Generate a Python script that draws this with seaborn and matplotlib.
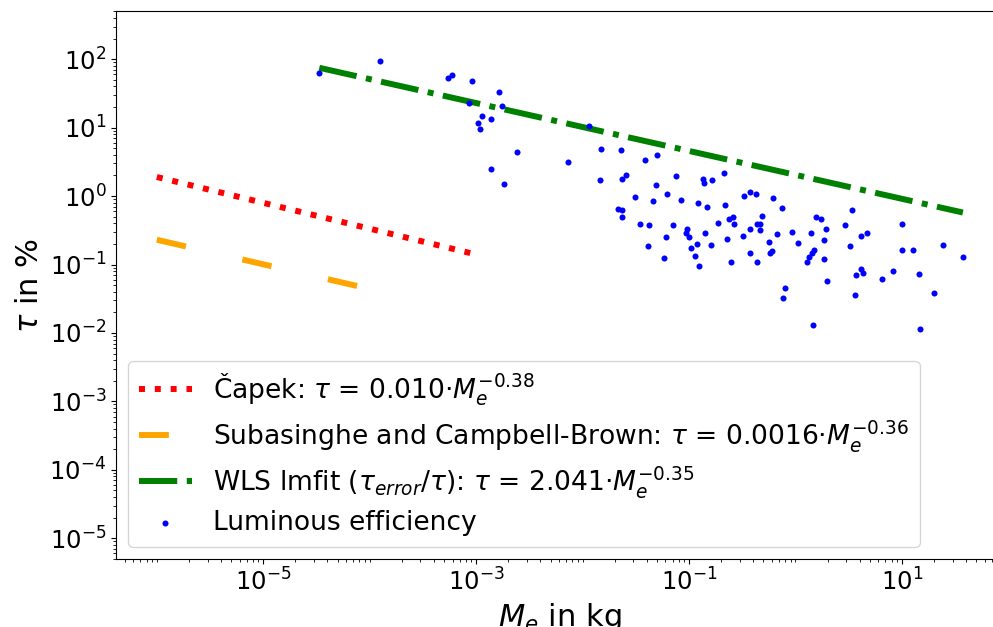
import numpy as np
import pandas as pd
import matplotlib
matplotlib.use("Agg")
import matplotlib.pyplot as plt
from matplotlib.ticker import LogLocator, NullFormatter
import seaborn as sns

# ---- data ----
capek_mass = [1e-6, 1e-3]
capek_tau = [1.9, 0.14]

suba_mass = [1e-6, 1e-4]
suba_tau = [0.23, 0.044]

wls_mass = [3.36e-5, 37.4]
wls_tau = [75.0, 0.575]

lum_mass = [
    3.36e-5, 1.25e-4, 5.40e-4, 5.93e-4, 9.07e-4, 8.61e-4, 1.65e-3, 1.75e-3,
    1.13e-3, 1.05e-3, 1.09e-3, 1.38e-3, 2.41e-3, 1.38e-3, 1.84e-3,
    1.14e-2, 7.28e-3, 1.50e-2, 2.29e-2, 3.83e-2, 5.03e-2, 1.46e-2, 2.33e-2,
    2.55e-2, 7.53e-2, 4.92e-2, 3.08e-2, 4.61e-2, 6.16e-2, 8.39e-2, 0.136,
    0.137, 0.165, 0.211, 0.121, 0.147, 0.216, 0.328, 0.376, 0.428,
    2.16e-2, 2.36e-2, 2.36e-2, 3.46e-2, 4.20e-2, 7.06e-2, 9.49e-2, 9.35e-2,
    9.91e-2, 6.07e-2, 0.140, 0.188, 0.236, 0.260, 0.262, 0.225, 0.323,
    0.376, 0.432, 0.463, 0.463, 0.481,
    4.11e-2, 0.118, 0.104, 0.160, 0.114, 0.124, 5.81e-2, 0.247, 0.376, 0.437,
    0.610, 0.746, 0.674, 0.567, 0.575, 0.601, 0.920, 1.05, 1.40, 1.57,
    1.72, 1.93, 1.86, 1.50, 1.42, 1.35, 1.28, 1.85, 1.99, 0.801, 0.762,
    1.45, 3.41, 2.91, 4.15, 4.69, 3.27, 4.12, 3.70, 4.30, 3.59, 6.49,
    8.18, 10.1, 10.1, 12.8, 24.3, 37.4, 14.4, 20.1, 14.9,
]
lum_tau = [
    62.4, 94.4, 52.8, 59.6, 47.7, 22.7, 33.3, 20.8,
    14.8, 11.8, 9.6, 13.4, 4.47, 2.49, 1.49,
    10.4, 3.19, 4.94, 4.78, 3.38, 4.04, 1.72, 1.80,
    2.04, 1.99, 1.44, 0.982, 0.858, 1.08, 0.888, 1.76,
    1.56, 1.74, 2.16, 0.795, 0.688, 0.750, 1.01, 1.14, 1.09,
    0.643, 0.628, 0.491, 0.396, 0.375, 0.383, 0.335, 0.292,
    0.251, 0.251, 0.287, 0.410, 0.464, 0.496, 0.396, 0.234, 0.265,
    0.331, 0.388, 0.392, 0.320, 0.513,
    0.185, 0.200, 0.173, 0.193, 0.132, 0.0944, 0.124, 0.109, 0.148, 0.108,
    0.950, 0.665, 0.283, 0.216, 0.149, 0.156, 0.302, 0.207, 0.292, 0.491,
    0.469, 0.331, 0.229, 0.162, 0.146, 0.130, 0.110, 0.121, 0.0570, 0.0450, 0.0322,
    0.0130, 0.622, 0.379, 0.262, 0.292, 0.187, 0.0862, 0.0712, 0.0754, 0.0363, 0.0622,
    0.0806, 0.388, 0.163, 0.165, 0.195, 0.129, 0.0736, 0.0381, 0.0116,
]

x_major_ticks = [1e-5, 1e-3, 1e-1, 1e1]
y_major_ticks = [1e-5, 1e-4, 1e-3, 1e-2, 1e-1, 1e0, 1e1, 1e2]
x_limits = (10 ** -6.38, 10 ** 1.95)
y_limits = (5e-6, 500)

label_capek = r"Čapek: $\tau$ = 0.010·$M_e^{-0.38}$"
label_suba = r"Subasinghe and Campbell-Brown: $\tau$ = 0.0016·$M_e^{-0.36}$"
label_wls = r"WLS lmfit ($\tau_{error}/\tau$): $\tau$ = 2.041·$M_e^{-0.35}$"
label_lum = "Luminous efficiency"

# ---- styling ----
sns.set_style("ticks")
plt.rcParams.update({
    "font.family": ["DejaVu Sans"],
    "axes.edgecolor": "black",
    "xtick.color": "black",
    "ytick.color": "black",
    "text.color": "black",
    "axes.labelcolor": "black",
    "axes.linewidth": 0.8,
    "xtick.major.size": 3.5, "ytick.major.size": 3.5,
    "xtick.minor.size": 2.0, "ytick.minor.size": 2.0,
    "xtick.major.width": 0.8, "ytick.major.width": 0.8,
    "xtick.minor.width": 0.6, "ytick.minor.width": 0.6,
})

fig = plt.figure(figsize=(9.93, 6.27), dpi=100)
ax = fig.add_axes([0.1172, 0.1088, 0.8929, 0.8730])

lw = 4.3
capek_df = pd.DataFrame({"m": capek_mass, "tau": capek_tau})
suba_df = pd.DataFrame({"m": suba_mass, "tau": suba_tau})
wls_df = pd.DataFrame({"m": wls_mass, "tau": wls_tau})
lum_df = pd.DataFrame({"m": lum_mass, "tau": lum_tau})

sns.lineplot(data=capek_df, x="m", y="tau", ax=ax, color="red",
             linestyle=":", linewidth=lw, label=label_capek)
sns.lineplot(data=suba_df, x="m", y="tau", ax=ax, color="orange",
             linestyle=(0, (5, 9.7)), linewidth=lw, label=label_suba)
sns.lineplot(data=wls_df, x="m", y="tau", ax=ax, color="green",
             linestyle="-.", linewidth=lw, label=label_wls)
sns.scatterplot(data=lum_df, x="m", y="tau", ax=ax, color="blue",
                s=19, linewidth=0, label=label_lum, zorder=3)

ax.set_xscale("log")
ax.set_yscale("log")
ax.set_xlim(*x_limits)
ax.set_ylim(*y_limits)

ax.set_xticks(x_major_ticks)
ax.set_yticks(y_major_ticks)
ax.xaxis.set_minor_locator(LogLocator(base=10, subs=np.arange(1, 10), numticks=100))
ax.yaxis.set_minor_locator(LogLocator(base=10, subs=np.arange(2, 10), numticks=100))
ax.xaxis.set_minor_formatter(NullFormatter())
ax.yaxis.set_minor_formatter(NullFormatter())
ax.tick_params(axis="both", which="major", labelsize=17.5)

ax.set_xlabel(r"$M_e$ in kg", fontsize=22)
ax.set_ylabel(r"$\tau$ in %", fontsize=22)

ax.legend(loc="lower left", fontsize=19.1, labelspacing=0.38,
          borderaxespad=0.45)

fig.savefig("out.png", dpi=100)
